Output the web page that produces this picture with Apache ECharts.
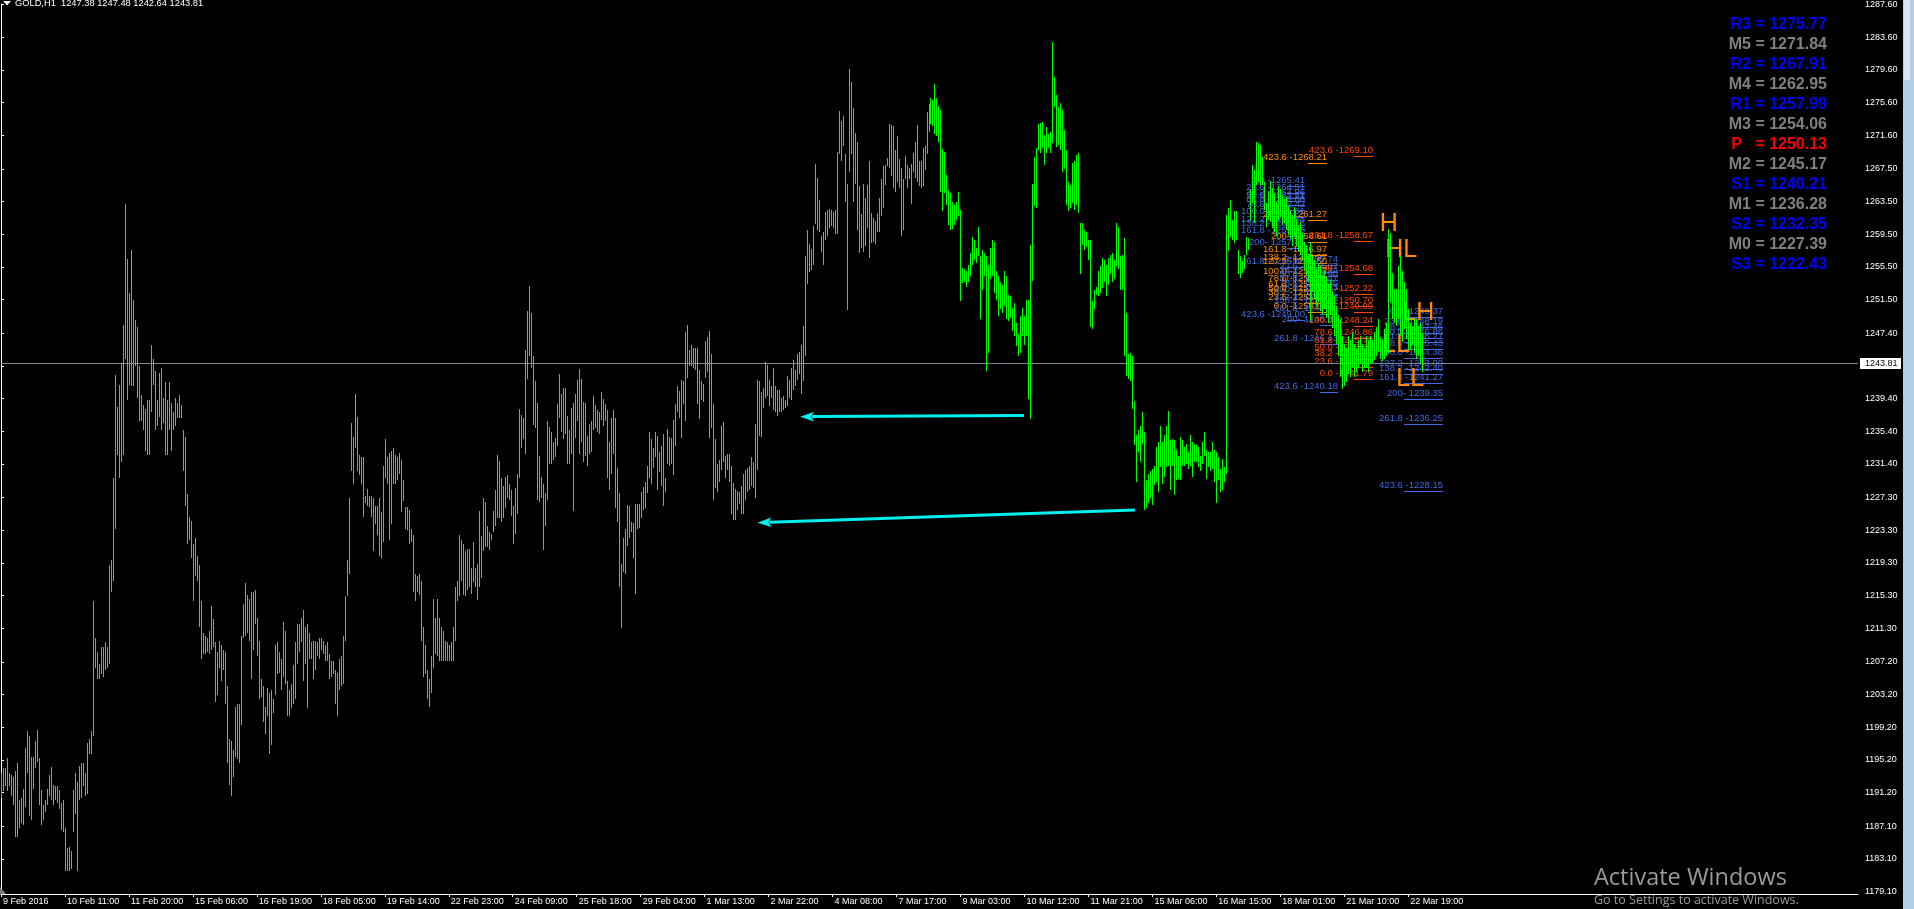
<!DOCTYPE html>
<html><head><meta charset="utf-8">
<script src="https://cdn.jsdelivr.net/npm/echarts@6/dist/echarts.min.js"></script>
<style>html,body{margin:0;padding:0;background:#000;overflow:hidden}#c{width:1914px;height:909px}</style>
</head><body><div id="c"></div>
<script>
const highs = [
1193.6,1194.2,1194.2,1195.4,1193.6,1193.4,1193.1,1193.9,1194.8,1190.3,
1190.6,1191.7,1196.7,1198.8,1198.1,1195.6,1195.6,1197.5,1198.9,1195.4,
1191.5,1189.7,1190.3,1191.7,1193.4,1194.3,1192.2,1192.0,1192.0,1191.5,
1190.0,1190.3,1186.9,1184.4,1184.6,1184.1,1191.5,1193.6,1192.5,1194.5,
1194.8,1194.8,1193.6,1197.3,1197.8,1198.7,1214.6,1210.1,1208.4,1207.0,
1209.0,1209.0,1209.6,1209.0,1219.1,1219.6,1229.7,1242.3,1238.4,1241.1,
1243.7,1248.4,1263.2,1256.5,1252.3,1257.6,1251.5,1249.0,1248.1,1243.4,
1239.8,1238.6,1238.1,1239.2,1239.2,1245.9,1244.2,1242.8,1239.2,1242.5,
1243.1,1239.5,1241.4,1239.2,1241.4,1238.9,1237.8,1239.5,1238.9,1239.8,
1238.6,1235.6,1234.7,1227.7,1224.9,1224.4,1221.6,1222.4,1220.2,1219.1,
1214.6,1210.7,1210.4,1210.1,1211.0,1214.0,1212.4,1209.6,1208.4,1209.8,
1209.3,1208.7,1208.4,1204.3,1197.8,1197.5,1196.4,1201.7,1202.0,1202.0,
1210.4,1214.3,1216.8,1215.4,1214.9,1215.7,1215.7,1216.0,1212.6,1209.8,
1205.1,1204.3,1201.7,1204.0,1203.4,1203.7,1202.6,1209.3,1209.6,1208.4,
1207.6,1212.1,1211.0,1204.8,1203.7,1204.5,1206.8,1209.6,1211.8,1211.8,
1212.6,1213.5,1211.5,1211.8,1210.7,1209.6,1209.8,1209.8,1209.6,1210.1,
1210.1,1209.8,1209.3,1209.6,1208.2,1207.3,1207.3,1206.2,1205.9,1207.6,
1207.9,1210.4,1215.2,1219.6,1227.2,1236.4,1234.7,1240.0,1237.2,1232.5,
1232.2,1232.2,1227.5,1228.3,1227.5,1227.5,1227.2,1226.3,1226.3,1227.2,
1225.5,1231.1,1234.4,1232.2,1232.8,1233.0,1233.3,1232.5,1232.2,1232.8,
1231.9,1229.4,1226.1,1226.1,1225.8,1223.5,1222.7,1217.9,1217.7,1217.9,
1217.1,1211.5,1209.3,1206.2,1205.1,1207.9,1214.9,1212.6,1214.9,1212.6,
1211.5,1211.0,1209.8,1209.6,1209.3,1209.6,1211.5,1216.3,1217.1,1222.7,
1222.1,1221.6,1220.7,1221.0,1221.0,1218.7,1221.9,1218.7,1219.2,1225.6,
1222.6,1227.2,1226.7,1223.8,1223.1,1222.9,1225.6,1228.2,1232.5,1231.8,
1229.7,1228.7,1229.8,1230.1,1229.0,1228.2,1226.3,1228.5,1230.2,1238.1,
1237.4,1237.0,1245.4,1250.1,1253.2,1249.9,1244.6,1241.5,1238.9,1232.4,
1229.8,1229.0,1227.8,1236.7,1235.9,1235.3,1234.1,1234.6,1238.8,1242.4,
1240.0,1240.7,1240.7,1237.3,1235.5,1238.3,1238.9,1240.0,1241.7,1243.0,
1241.8,1239.0,1238.9,1234.8,1236.3,1236.6,1239.7,1238.6,1238.0,1237.8,
1240.2,1239.4,1238.8,1238.0,1234.1,1237.0,1238.0,1237.0,1230.9,1227.8,
1219.2,1222.4,1223.4,1226.4,1226.3,1224.3,1224.2,1226.5,1226.5,1226.5,
1228.0,1228.6,1229.2,1231.1,1235.3,1234.4,1233.4,1235.3,1234.8,1232.9,
1233.6,1235.1,1229.7,1235.7,1234.7,1234.6,1236.8,1238.8,1241.0,1240.3,
1241.7,1241.5,1247.6,1248.4,1245.4,1245.9,1245.6,1245.6,1245.6,1242.9,
1241.5,1241.2,1246.4,1246.9,1247.7,1244.9,1238.8,1234.5,1231.4,1231.9,
1236.1,1236.5,1232.4,1232.6,1232.6,1231.2,1229.1,1228.3,1228.1,1228.0,
1228.7,1230.2,1230.7,1230.9,1231.2,1232.2,1231.6,1236.3,1241.7,1241.5,
1240.2,1240.7,1243.9,1243.5,1241.7,1241.0,1243.2,1241.0,1240.5,1240.5,
1239.5,1239.7,1239.2,1242.2,1241.7,1243.2,1244.1,1242.9,1244.9,1245.1,
1245.9,1248.3,1256.9,1260.0,1258.3,1257.7,1260.5,1268.1,1266.4,1263.7,
1259.3,1259.8,1262.2,1262.5,1262.6,1262.5,1262.2,1262.5,1269.6,1274.6,
1273.4,1274.0,1269.3,1265.7,1279.7,1278.1,1274.9,1271.9,1270.8,1265.4,
1262.0,1265.7,1263.9,1265.5,1268.5,1262.1,1261.5,1261.1,1262.1,1263.9,
1266.2,1267.8,1268.0,1268.8,1273.0,1272.9,1272.8,1269.8,1271.5,1268.7,
1267.6,1266.2,1269.1,1268.0,1267.6,1268.1,1269.4,1270.8,1272.9,1268.4,
1268.4,1270.1,1270.3,1274.5,1275.4,1276.2,1275.9,1277.9,1276.2,1275.2,
1274.7,1269.9,1269.6,1266.7,1264.9,1264.5,1263.5,1263.1,1263.5,1264.7,
1262.5,1255.4,1255.2,1255.0,1255.8,1257.2,1259.2,1258.8,1257.8,1260.4,
1256.8,1257.6,1257.2,1256.8,1255.8,1257.8,1258.8,1258.6,1255.0,1254.4,
1253.7,1253.3,1255.0,1254.4,1252.1,1252.0,1250.5,1251.1,1248.7,1247.3,
1249.5,1250.5,1249.5,1251.5,1251.5,1258.2,1265.7,1269.0,1270.0,1273.0,
1273.1,1273.2,1271.6,1272.6,1271.8,1272.0,1283.0,1278.7,1276.5,1275.1,
1275.5,1274.7,1272.2,1269.8,1265.9,1265.5,1268.2,1268.4,1269.2,1269.4,
1260.9,1260.9,1260.0,1259.8,1258.8,1258.8,1251.3,1252.7,1253.1,1255.0,
1255.6,1256.6,1256.4,1255.8,1256.6,1257.0,1257.2,1256.4,1260.9,1260.4,
1256.8,1257.0,1259.0,1249.9,1244.8,1245.0,1244.6,1239.1,1234.9,1235.5,
1236.1,1237.8,1235.3,1229.4,1230.2,1230.6,1230.8,1231.2,1233.5,1234.1,
1236.1,1234.1,1234.9,1236.1,1237.9,1234.3,1234.5,1234.3,1233.1,1232.4,
1234.7,1234.3,1233.5,1233.9,1232.9,1234.9,1234.1,1233.9,1233.7,1233.5,
1232.4,1234.1,1235.3,1233.1,1232.9,1232.9,1234.1,1233.1,1232.9,1232.2,
1230.8,1232.0,1231.0,1261.9,1262.7,1263.7,1261.3,1262.3,1262.3,1257.6,
1256.8,1256.2,1257.0,1259.2,1259.0,1264.9,1268.0,1267.3,1270.8,1270.6,
1270.4,1269.0,1265.9,1263.3,1264.8,1266.0,1265.2,1264.6,1263.5,1265.4,
1265.0,1264.3,1263.8,1264.0,1263.0,1262.4,1261.8,1262.8,1261.4,1260.6,
1261.0,1259.6,1258.6,1258.2,1257.1,1258.6,1256.9,1256.4,1255.2,1256.0,
1255.6,1254.5,1255.0,1254.1,1253.4,1253.9,1252.6,1251.9,1250.6,1249.6,
1249.1,1247.1,1246.1,1245.6,1247.1,1246.6,1247.6,1246.1,1245.6,1246.6,
1247.1,1246.1,1245.6,1247.1,1246.6,1247.1,1246.6,1247.6,1248.1,1249.1,
1246.9,1246.7,1247.9,1248.7,1260.1,1259.7,1254.8,1252.8,1252.8,1255.6,
1256.8,1255.0,1253.6,1252.8,1250.3,1248.7,1248.3,1249.1,1249.1,1248.3,
1248.7,1247.48
];
const lows = [
1190.6,1191.4,1192.0,1191.4,1192.0,1190.8,1189.7,1185.8,1185.8,1186.9,
1187.5,1187.2,1189.4,1193.6,1188.3,1187.8,1191.7,1194.2,1195.0,1189.7,
1187.2,1187.8,1188.9,1189.7,1190.8,1190.3,1189.7,1190.3,1190.0,1189.2,
1186.6,1186.4,1181.6,1181.6,1181.6,1181.9,1186.4,1188.6,1181.6,1190.3,
1190.6,1192.0,1190.8,1191.1,1195.9,1195.9,1198.1,1206.5,1205.1,1205.1,
1205.7,1205.4,1206.2,1206.5,1207.0,1215.7,1217.1,1223.5,1232.5,1229.7,
1231.6,1232.5,1244.2,1239.2,1241.1,1240.9,1240.9,1243.4,1239.5,1236.7,
1236.7,1235.6,1233.0,1232.5,1232.5,1237.8,1241.1,1235.6,1236.1,1237.2,
1235.6,1236.4,1232.5,1232.5,1235.6,1233.0,1235.6,1236.1,1237.0,1237.0,
1237.0,1230.5,1226.3,1221.6,1222.1,1219.9,1214.6,1217.7,1217.1,1211.5,
1207.6,1208.2,1208.2,1208.4,1208.2,1208.7,1209.0,1202.3,1203.1,1206.5,
1204.8,1206.2,1202.0,1194.8,1192.2,1190.8,1193.1,1195.6,1195.3,1194.8,
1199.5,1210.1,1210.4,1210.7,1209.8,1205.1,1208.7,1211.8,1207.9,1202.6,
1202.9,1199.8,1198.4,1200.6,1195.9,1197.0,1200.9,1203.1,1205.7,1205.9,
1203.7,1205.4,1204.5,1200.6,1200.6,1201.5,1202.0,1202.6,1207.0,1208.4,
1209.6,1204.8,1207.0,1201.5,1207.6,1207.6,1205.1,1206.2,1207.9,1207.6,
1208.7,1208.2,1207.3,1207.3,1205.1,1205.4,1205.7,1202.0,1200.6,1203.7,
1204.3,1204.5,1209.8,1215.2,1217.9,1230.5,1228.9,1233.3,1230.5,1230.0,
1228.9,1224.9,1226.6,1226.3,1226.1,1224.9,1220.7,1224.1,1222.7,1220.2,
1219.9,1221.9,1229.7,1228.9,1222.1,1224.1,1228.9,1228.9,1229.4,1230.2,
1225.5,1226.9,1223.5,1223.3,1221.6,1221.9,1215.7,1214.6,1215.7,1215.4,
1209.8,1205.4,1205.7,1202.6,1201.7,1203.4,1206.5,1208.2,1207.9,1207.3,
1207.3,1207.3,1207.3,1207.3,1207.3,1207.3,1207.3,1209.8,1214.6,1215.2,
1217.1,1215.4,1215.2,1216.0,1216.3,1215.5,1217.0,1216.3,1214.8,1216.3,
1217.5,1220.7,1221.2,1221.2,1220.9,1222.1,1223.1,1223.8,1224.8,1224.8,
1224.3,1224.8,1226.0,1227.3,1227.0,1225.1,1221.6,1222.9,1225.3,1229.7,
1233.4,1234.4,1232.6,1241.8,1244.6,1243.2,1236.2,1235.8,1227.0,1226.8,
1227.3,1220.9,1223.8,1227.0,1231.4,1231.4,1231.9,1232.2,1233.6,1237.0,
1235.3,1234.4,1235.1,1231.4,1231.4,1232.6,1225.6,1234.6,1236.6,1232.6,
1234.1,1231.7,1232.4,1231.2,1232.6,1232.9,1235.6,1235.8,1235.3,1235.1,
1236.8,1236.1,1236.6,1229.7,1228.2,1230.2,1232.6,1226.0,1224.3,1216.3,
1211.4,1218.2,1218.0,1221.4,1222.4,1223.1,1219.9,1215.5,1223.4,1223.6,
1224.8,1225.8,1226.0,1227.8,1229.7,1229.0,1230.9,1232.2,1228.2,1230.4,
1228.7,1226.3,1228.0,1231.4,1231.2,1231.4,1230.0,1233.6,1237.8,1237.0,
1234.6,1238.8,1236.6,1241.9,1243.4,1243.4,1243.2,1242.9,1238.8,1236.9,
1239.2,1239.0,1241.9,1242.7,1234.6,1235.8,1227.0,1228.5,1228.0,1229.2,
1230.7,1231.7,1229.7,1230.7,1229.2,1225.3,1224.6,1224.6,1225.8,1226.5,
1225.3,1225.3,1227.0,1228.0,1228.2,1228.7,1228.5,1227.3,1230.7,1234.8,
1234.7,1238.3,1239.5,1239.7,1238.5,1239.5,1238.0,1237.8,1237.3,1237.8,
1237.8,1238.0,1238.3,1238.5,1239.5,1239.2,1240.5,1241.0,1241.7,1242.4,
1240.0,1241.5,1244.6,1253.4,1254.9,1255.1,1255.7,1260.8,1260.0,1259.8,
1257.3,1255.7,1258.8,1259.3,1260.3,1260.5,1260.3,1259.5,1259.5,1269.3,
1268.4,1270.3,1263.5,1250.2,1267.1,1269.3,1263.5,1265.7,1260.0,1257.2,
1257.8,1257.3,1258.1,1260.3,1256.6,1258.4,1258.6,1258.3,1259.8,1259.8,
1261.7,1262.7,1265.5,1267.9,1267.6,1266.6,1265.2,1264.7,1265.9,1265.2,
1259.3,1260.0,1266.2,1265.2,1266.2,1263.2,1267.1,1266.4,1265.9,1265.4,
1265.2,1265.4,1267.4,1269.3,1272.0,1273.0,1272.8,1271.8,1271.5,1270.8,
1264.7,1262.3,1264.5,1263.1,1260.6,1260.0,1260.2,1260.6,1261.3,1261.7,
1251.3,1253.5,1253.7,1253.1,1253.6,1254.4,1255.8,1256.4,1256.0,1256.8,
1249.1,1252.7,1254.4,1242.8,1245.0,1254.0,1254.4,1252.3,1251.5,1249.5,
1250.3,1249.9,1250.7,1249.1,1248.9,1249.3,1247.7,1247.1,1245.8,1244.6,
1245.0,1247.1,1246.0,1247.1,1239.3,1236.9,1253.8,1262.9,1262.7,1269.8,
1269.4,1270.0,1268.0,1269.4,1270.0,1269.4,1270.6,1275.1,1270.2,1270.4,
1269.8,1267.1,1267.5,1263.1,1262.3,1262.7,1263.3,1262.5,1263.1,1262.1,
1254.6,1258.2,1257.6,1258.0,1256.4,1248.1,1247.9,1250.3,1252.1,1251.9,
1252.3,1252.9,1253.6,1251.9,1253.3,1254.6,1253.6,1254.0,1255.6,1255.2,
1252.7,1252.7,1244.6,1242.2,1241.8,1241.6,1238.1,1233.7,1229.2,1232.9,
1231.6,1233.9,1225.8,1226.0,1226.6,1227.2,1226.4,1228.8,1229.2,1228.0,
1231.0,1229.0,1229.8,1231.0,1231.2,1228.2,1231.2,1227.6,1229.4,1229.6,
1229.4,1231.2,1231.2,1231.4,1230.8,1231.2,1229.8,1231.6,1231.6,1231.0,
1230.6,1231.4,1232.4,1229.6,1231.0,1230.6,1230.8,1229.2,1226.6,1229.4,
1228.0,1228.2,1229.2,1230.2,1257.4,1259.2,1258.8,1258.4,1258.8,1254.6,
1254.2,1254.8,1255.2,1257.0,1257.6,1261.3,1263.3,1260.9,1265.5,1265.9,
1265.5,1265.5,1262.5,1260.4,1261.2,1261.0,1260.3,1259.8,1259.2,1261.2,
1261.6,1260.6,1260.9,1260.0,1259.4,1258.9,1258.1,1259.3,1257.9,1257.4,
1257.0,1256.4,1255.1,1254.4,1253.6,1248.9,1252.4,1251.6,1250.6,1251.2,
1250.1,1249.6,1250.4,1249.2,1248.6,1249.6,1248.0,1247.1,1246.1,1244.6,
1242.1,1240.6,1240.9,1241.4,1242.4,1242.1,1243.1,1242.1,1242.6,1243.1,
1243.6,1242.6,1243.1,1243.1,1242.6,1243.6,1243.8,1244.1,1244.6,1245.1,
1244.2,1244.0,1244.2,1244.6,1245.0,1251.1,1249.1,1248.7,1248.3,1249.1,
1247.1,1246.3,1247.9,1246.7,1245.4,1245.4,1245.9,1245.0,1244.2,1244.6,
1243.8,1242.64
];
const xTickLabels = ['9 Feb 2016','10 Feb 11:00','11 Feb 20:00','15 Feb 06:00','16 Feb 19:00','18 Feb 05:00','19 Feb 14:00','22 Feb 23:00','24 Feb 09:00','25 Feb 18:00','29 Feb 04:00','1 Mar 13:00','2 Mar 22:00','4 Mar 08:00','7 Mar 17:00','9 Mar 03:00','10 Mar 12:00','11 Mar 21:00','15 Mar 06:00','16 Mar 15:00','18 Mar 01:00','21 Mar 10:00','22 Mar 19:00'];
const yTickLabels = ['1287.60','1283.60','1279.60','1275.60','1271.60','1267.50','1263.50','1259.50','1255.50','1251.50','1247.40','1243.40','1239.40','1235.40','1231.40','1227.30','1223.30','1219.30','1215.30','1211.30','1207.20','1203.20','1199.20','1195.20','1191.20','1187.10','1183.10','1179.10'];
const headerText = 'GOLD,H1  1247.38 1247.48 1242.64 1243.81';
const lastPrice = 1243.81;
const pivotNames = ['R3','M5','R2','M4','R1','M3','P  ','M2','S1','M1','S2','M0','S3'];
const pivotValues = [1275.77,1271.84,1267.91,1262.95,1257.99,1254.06,1250.13,1245.17,1240.21,1236.28,1232.35,1227.39,1222.43];
const fibTags = ['0.0 -','23.6 -','38.2 -','50.0 -','61.8 -','78.6 -','100.0 -','127.2 -','138.2 -','161.8 -','200- ','261.8 -','423.6 -'];
const fibBlueLeft = [1265.41,1264.51,1263.96,1263.51,1263.06,1262.42,1261.61,1260.58,1260.16,1259.26,1257.86,1255.46,1249.00];
const fibOrange = [1250.04,1251.05,1251.68,1252.18,1252.69,1253.41,1254.33,1255.50,1255.97,1256.97,1258.61,1261.27,1268.21];
const fibBlueMid = [1255.74,1254.87,1254.34,1253.90,1253.47,1252.85,1252.07,1251.07,1250.67,1249.80,1248.39,1246.13,1240.18];
const fibRed = [1241.79,1243.31,1244.25,1245.02,1245.78,1246.86,1248.24,1249.99,1250.70,1252.22,1254.68,1258.67,1269.10];
const fibBlueRight = [1249.37,1248.19,1247.46,1246.86,1246.27,1245.43,1244.36,1243.00,1242.40,1241.27,1239.35,1236.25,1228.15];
const zigzagTexts = ['H','HL','LH','LL','LL'];
const zigzagBars = [694.25,700.5,709,698,705];
const zigzagPrices = [1260.7,1257.6,1249.9,1245.9,1241.75];
const arrowStarts = [[511.7,1237.33],[567.2,1225.77]];
const arrowEnds = [[399.7,1237.19],[378.4,1224.22]];

// ---- presentation ----
const FONT = '"Liberation Sans", Arial, sans-serif';
const fibSets = [
  {levels: fibBlueLeft, from: 643.5, to: 652.5, color: '#4169e1'},
  {levels: fibOrange, from: 654, to: 663.5, color: '#ff8c00'},
  {levels: fibBlueMid, from: 660, to: 669, color: '#4169e1'},
  {levels: fibRed, from: 677, to: 686.5, color: '#ff4500'},
  {levels: fibBlueRight, from: 702, to: 721.5, color: '#4169e1'}
];
const fibData = [];
fibSets.forEach((s, si) => s.levels.forEach((p, li) => fibData.push([s.from, s.to, p, si, li])));
const barData = highs.map((h, i) => [i, lows[i], h]);
const xTickValues = xTickLabels.map((_, k) => k * 32);
const yTickValues = yTickLabels.map(Number);

const chart = echarts.init(document.getElementById('c'), null, {renderer: 'canvas'});
const pivotGraphics = pivotNames.map((n, k) => ({
  type: 'text', x: 1827, y: 24.5 + 20 * k, z: 10,
  style: {text: n + ' = ' + pivotValues[k].toFixed(2), fill: n[0] === 'M' ? '#808080' : (n[0] === 'P' ? '#ff0000' : '#0000ff'),
    font: 'bold 16px ' + FONT, align: 'right', verticalAlign: 'middle'}
}));
chart.setOption({
  backgroundColor: '#000',
  animation: false,
  grid: {left: 0, right: 56, top: 0, bottom: 15, containLabel: false},
  xAxis: {
    type: 'value', min: 0, max: 929, position: 'bottom',
    axisLine: {show: true, lineStyle: {color: '#ffffff', width: 1}},
    axisTick: {show: true, customValues: xTickValues, length: 3, lineStyle: {color: '#ffffff'}},
    axisLabel: {show: true, customValues: xTickValues, color: '#ffffff', fontSize: 9, fontFamily: FONT,
      align: 'left', margin: 3, padding: [0, 0, 0, 2], formatter: v => xTickLabels[Math.round(v / 32)] || ''},
    splitLine: {show: false}
  },
  yAxis: {
    type: 'value', position: 'right', min: 1178.81, max: 1287.65,
    axisLine: {show: true, lineStyle: {color: '#ffffff', width: 1}},
    axisTick: {show: true, customValues: yTickValues, length: 3, lineStyle: {color: '#ffffff'}},
    axisLabel: {show: true, customValues: yTickValues, color: '#ffffff', fontSize: 9, fontFamily: FONT, margin: 7,
      formatter: v => { const k = yTickValues.indexOf(v); return k >= 0 ? yTickLabels[k] : v.toFixed(2); }},
    splitLine: {show: false}
  },
  series: [
    { // fibonacci level labels
      type: 'custom', z: 1, silent: true, clip: false, data: fibData, encode: {x: [0, 1], y: 2},
      renderItem(params, api) {
        const s = fibSets[api.value(3)], li = api.value(4), price = api.value(2);
        const a = api.coord([api.value(0), price]), b = api.coord([api.value(1), price]);
        const y = Math.round(a[1]) + 0.5;
        return {type: 'group', children: [
          {type: 'line', shape: {x1: Math.round(a[0]), y1: y, x2: Math.round(b[0]), y2: y}, style: {stroke: s.color, lineWidth: 1}},
          {type: 'text', x: Math.round(b[0]), y: y - 1, style: {text: fibTags[li] + price.toFixed(2), fill: s.color,
            font: '9.5px ' + FONT, align: 'right', verticalAlign: 'bottom'}}
        ]};
      }
    },
    { // zigzag labels
      type: 'custom', z: 1, silent: true, clip: false,
      data: zigzagBars.map((x, k) => [x, zigzagPrices[k], k]), encode: {x: 0, y: 1},
      renderItem(params, api) {
        const p = api.coord([api.value(0), api.value(1)]);
        return {type: 'text', x: p[0], y: p[1], style: {text: zigzagTexts[api.value(2)], fill: '#ff8c00',
          font: '25px ' + FONT, align: 'center', verticalAlign: 'middle'}};
      }
    },
    { // bid line
      type: 'custom', z: 1, silent: true, clip: false, data: [[0, 929, lastPrice]], encode: {x: [0, 1], y: 2},
      renderItem(params, api) {
        const a = api.coord([api.value(0), api.value(2)]), b = api.coord([api.value(1), api.value(2)]);
        const y = Math.round(a[1]) + 0.5;
        return {type: 'line', shape: {x1: a[0], y1: y, x2: b[0], y2: y}, style: {stroke: '#778899', lineWidth: 1}};
      }
    },
    { // OHLC bars (high-low lines)
      type: 'custom', z: 2, silent: true, data: barData, encode: {x: 0, y: [1, 2]},
      renderItem(params, api) {
        const i = api.value(0);
        const pl = api.coord([i, api.value(1)]), ph = api.coord([i, api.value(2)]);
        const y1 = Math.round(ph[1]), y2 = Math.round(pl[1]);
        return {type: 'rect', shape: {x: Math.round(pl[0]), y: y1, width: 1, height: Math.max(1, y2 - y1)}, style: {fill: '#00ff00'}};
      }
    },
    { // arrows
      type: 'custom', z: 3, silent: true, clip: false,
      data: arrowStarts.map((s, k) => [s[0], s[1], arrowEnds[k][0], arrowEnds[k][1]]), encode: {x: [0, 2], y: [1, 3]},
      renderItem(params, api) {
        const p1 = api.coord([api.value(0), api.value(1)]), p2 = api.coord([api.value(2), api.value(3)]);
        const dx = p2[0] - p1[0], dy = p2[1] - p1[1], len = Math.hypot(dx, dy), ux = dx / len, uy = dy / len;
        const L = 14, W = 4.8, bx = p2[0] - ux * L, by = p2[1] - uy * L;
        return {type: 'group', children: [
          {type: 'line', shape: {x1: p1[0], y1: p1[1], x2: bx + ux * 2, y2: by + uy * 2}, style: {stroke: '#00f0f0', lineWidth: 3}},
          {type: 'polygon', shape: {points: [[p2[0], p2[1]], [bx - uy * W, by + ux * W], [bx + ux * 3, by + uy * 3], [bx + uy * W, by - ux * W]]}, style: {fill: '#00f0f0'}}
        ]};
      }
    },
    { // bid price label on axis
      type: 'custom', z: 5, silent: true, clip: false, data: [[929, lastPrice]], encode: {x: 0, y: 1},
      renderItem(params, api) {
        const p = api.coord([api.value(0), api.value(1)]);
        const y = Math.round(p[1]);
        return {type: 'group', children: [
          {type: 'rect', shape: {x: p[0] + 2, y: y - 5, width: 41, height: 11}, style: {fill: '#ffffff'}},
          {type: 'text', x: p[0] + 7, y: y + 0.5, style: {text: api.value(1).toFixed(2), fill: '#000000', font: '9px ' + FONT, verticalAlign: 'middle'}}
        ]};
      }
    }
  ],
  graphic: [
    {type: 'polygon', z: 10, shape: {points: [[3, 1], [11, 1], [7, 5.5]]}, style: {fill: '#ffffff'}},
    {type: 'text', z: 10, x: 15, y: 3.5, style: {text: headerText, fill: '#ffffff', font: '9.3px ' + FONT, verticalAlign: 'middle'}},
    {type: 'polygon', z: 10, shape: {points: [[0, 887], [0, 894], [6, 894]]}, style: {fill: '#7f7f7f'}},
    ...pivotGraphics,
    {type: 'text', z: 10, x: 1594, y: 878, style: {text: 'Activate Windows', fill: '#9a9a9a', font: '23.5px "Open Sans", sans-serif', verticalAlign: 'middle'}},
    {type: 'text', z: 10, x: 1594, y: 900, style: {text: 'Go to Settings to activate Windows.', fill: '#9a9a9a', font: '12.5px "Open Sans", sans-serif', verticalAlign: 'middle'}},
    {type: 'rect', z: 10, shape: {x: 1903, y: 0, width: 11, height: 909}, style: {fill: '#b4cde6'}},
    {type: 'rect', z: 10, shape: {x: 1904, y: 0, width: 6, height: 80}, style: {fill: '#d8e6f4'}}
  ]
});
</script>
</body></html>
